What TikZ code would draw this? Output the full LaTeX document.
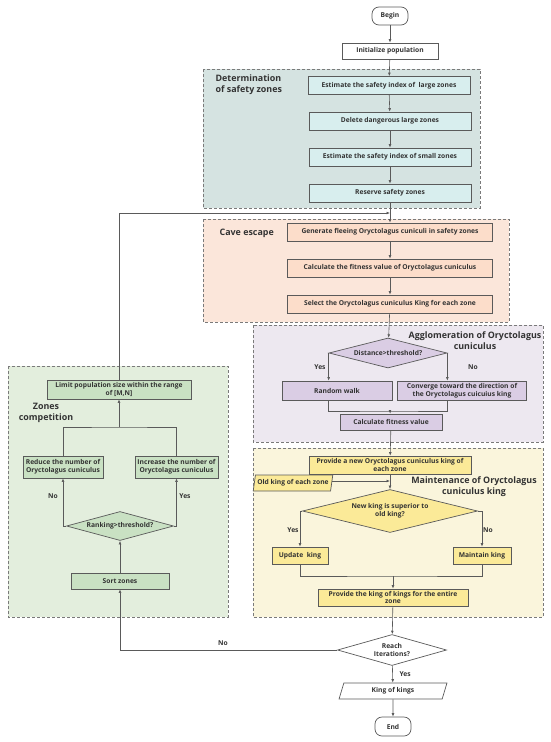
\documentclass[tikz,border=0pt]{standalone}
\usepackage{fontspec}
\setmainfont{Open Sans}
\usetikzlibrary{arrows.meta,shapes.geometric,positioning}
\definecolor{linegray}{HTML}{5A5A5A}
\definecolor{zonegray}{HTML}{7A7A7A}
\definecolor{txt}{HTML}{333333}
\definecolor{tealzone}{HTML}{D5E3E1}
\definecolor{tealbox}{HTML}{D8EEEE}
\definecolor{orangezone}{HTML}{FBE6DA}
\definecolor{orangebox}{HTML}{FCDDCA}
\definecolor{purplezone}{HTML}{EDE8F0}
\definecolor{purplebox}{HTML}{DACDE4}
\definecolor{yellowzone}{HTML}{FAF5DC}
\definecolor{yellowbox}{HTML}{FBEA98}
\definecolor{greenzone}{HTML}{E3EEDD}
\definecolor{greenbox}{HTML}{C9E1C3}

\begin{document}
\begin{tikzpicture}[x=1pt,y=-1pt,-{Latex[length=3.5pt,width=2.8pt]},line width=0.6pt,draw=linegray]
\tikzset{
  zone/.style    = {draw=zonegray, dash pattern=on 3pt off 2pt,
                    line width=0.8pt, -},
  box/.style     = {shape=rectangle, draw=linegray, line width=0.7pt,
                    align=center, inner sep=1pt, text=txt,
                    font=\fontsize{6.7}{7.7}\selectfont\bfseries},
  safebox/.style = {box, fill=tealbox, minimum width=162, minimum height=18},
  cavebox/.style = {box, fill=orangebox, minimum width=205, minimum height=18},
  aggbox/.style  = {box, fill=purplebox, minimum height=19},
  kingbox/.style = {box, fill=yellowbox, minimum height=17},
  compbox/.style = {box, fill=greenbox},
  cond/.style    = {box, diamond, inner sep=0pt},
  io/.style      = {box, trapezium, trapezium left angle=76,
                    trapezium right angle=104, trapezium stretches=true,
                    minimum height=16},
  term/.style    = {box, fill=white, rounded corners=7pt,
                    minimum width=36, minimum height=18},
  ttl/.style     = {text=txt, align=center,
                    font=\fontsize{8.9}{11}\selectfont\bfseries},
  lbl/.style     = {text=txt, font=\fontsize{6.7}{7.7}\selectfont\bfseries}
}
\useasboundingbox (0,0) rectangle (550,742);

% zones
\draw[zone, fill=tealzone]   (203,69)  rectangle (480,208);
\draw[zone, fill=orangezone] (203,219) rectangle (509,322);
\draw[zone, fill=purplezone] (253,325) rectangle (543,442);
\draw[zone, fill=yellowzone] (253,448) rectangle (543,617);
\draw[zone, fill=greenzone]  (8,366)   rectangle (228,617);

\node[ttl, align=left, anchor=north west] (ttlsafe) at (212,71) {Determination\\of safety zones};
\node[ttl, anchor=west] (ttlcave) at (216,233) {Cave escape};
\node[ttl] (ttlagg) at (475,341) {Agglomeration of Oryctolagus\\cuniculus};
\node[ttl] (ttlking) at (474,487) {Maintenance of Oryctolagus\\cuniculus king};
\node[ttl] (ttlcomp) at (46,413) {Zones\\competition};

% main column
\node[term] (begin) at (390,16) {Begin};
\node[box, fill=white, minimum width=96, minimum height=16] (init) at (390,51) {Initialize population};
\node[safebox] (estlarge) at (389,85.5) {Estimate the safety index of ~large zones};
\node[safebox] (dellarge) at (390,121) {Delete dangerous large zones};
\node[safebox] (estsmall) at (390,157) {Estimate the safety index of small zones};
\node[safebox] (reserve)  at (390,193) {Reserve safety zones};
\node[cavebox] (generate) at (390,232) {Generate fleeing Oryctolagus cuniculi in safety zones};
\node[cavebox] (fitcave)  at (390,268) {Calculate the fitness value of Oryctolagus cuniculus};
\node[cavebox] (select)   at (390,304) {Select the Oryctolagus cuniculus King for each zone};
\node[cond, fill=purplebox, aspect=3.9, minimum width=118, minimum height=30] (dist) at (388,353) {Distance\textgreater threshold?};
\node[aggbox, minimum width=110] (walk) at (337,390.5) {Random walk};
\node[aggbox, minimum width=129] (converge) at (462,390.5) {Converge toward the direction of\\the Oryctolagus cuicuius king};
\node[aggbox, minimum width=102, minimum height=16] (fitagg) at (391,422) {Calculate fitness value};
\node[kingbox, minimum width=162, minimum height=18] (newking) at (390,465) {Provide a new Oryctolagus cuniculus king of\\each zone};
\node[io, fill=yellowbox, minimum width=80] (oldking) at (293,483) {Old king of each zone};
\node[cond, fill=yellowbox, aspect=4, minimum width=175, minimum height=43] (superior) at (390,511) {New king is superior to\\old king?};
\node[kingbox, minimum width=56] (update) at (300,555.5) {Update ~king};
\node[kingbox, minimum width=58] (maintain) at (482,555.5) {Maintain king};
\node[kingbox, minimum width=150] (kingall) at (393,597.5) {Provide the king of kings for the entire\\zone};
\node[cond, fill=white, aspect=3.5, minimum width=109, minimum height=31] (reach) at (392,650) {Reach\\Iterations?};
\node[io, fill=white, minimum width=108] (result) at (393,691) {King of kings};
\node[term, minimum height=19] (end) at (393,726.5) {End};

% competition column
\node[compbox, minimum width=144, minimum height=19] (limit) at (119,389.5) {Limit population size within the range\\of [M,N]};
\node[compbox, minimum width=80, minimum height=22] (reduce) at (63,467) {Reduce the number of\\Oryctolagus cuniculus};
\node[compbox, minimum width=83, minimum height=22] (increase) at (176.5,467) {Increase the number of\\Oryctolagus cuniculus};
\node[cond, fill=greenbox, aspect=3.7, minimum width=107, minimum height=29] (rank) at (120,526) {Ranking\textgreater threshold?};
\node[compbox, minimum width=98, minimum height=16] (sort) at (120,581) {Sort zones};

% branch labels
\node[lbl] (yesdist) at (320,367) {Yes};
\node[lbl] (nodist) at (473,367) {No};
\node[lbl] (yessup) at (293,530) {Yes};
\node[lbl] (nosup) at (488,530) {No};
\node[lbl] (noreach) at (223,643) {No};
\node[lbl, anchor=west] (yesreach) at (396,674) {Yes};
\node[lbl] (norank) at (53,496) {No};
\node[lbl] (yesrank) at (185,496) {Yes};

\coordinate (loopin) at (390,213);
\coordinate (mergeagg) at (390,411);
\coordinate (mergeking) at (393,576);
\coordinate (mergecomp) at (119,427);
\coordinate (oldin) at (390,481);

\draw (begin) -- (init);
\draw (init) -- (estlarge);
\foreach \a/\b in {estlarge/dellarge, dellarge/estsmall, estsmall/reserve,
                   reserve/generate, generate/fitcave, fitcave/select, select/dist}
  \draw (\a) -- (\b);
\draw (dist.west) -- (dist.west |- walk.north);
\draw (dist.east) -- (dist.east |- converge.north);
\draw[-] (dist.west |- walk.south) |- (mergeagg) -| (dist.east |- converge.south);
\draw (mergeagg) -- (fitagg);
\draw (fitagg) -- (newking);
\draw (newking) -- (superior);
\draw (oldking.east |- oldin) -- (oldin);
\draw (superior.west) -| (update.north);
\draw (superior.east) -| (maintain.north);
\draw[-] (update.south) |- (mergeking) -| (maintain.south);
\draw (mergeking) -- (kingall);
\draw (kingall) -- (reach);
\draw (reach) -- (result);
\draw (result) -- (end);

\draw (reach.west) -| (sort.south);
\draw (sort) -- (rank);
\draw (rank.west) -| (reduce.south);
\draw (rank.east) -| (increase.south);
\draw[-] (reduce.north) |- (mergecomp) -| (increase.north);
\draw (mergecomp) -- (limit);
\draw (limit.north) |- (loopin);
\end{tikzpicture}
\end{document}
